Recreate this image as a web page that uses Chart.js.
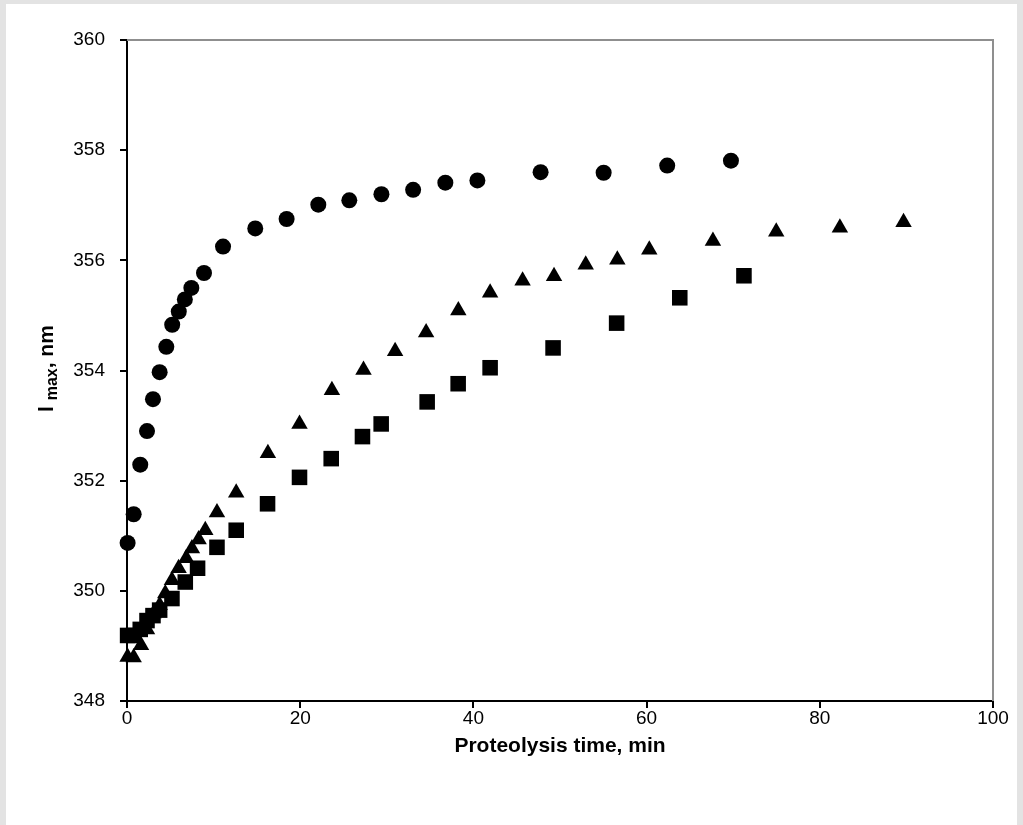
<!DOCTYPE html>
<html>
<head>
<meta charset="utf-8">
<script src="https://cdn.jsdelivr.net/npm/chart.js@4"></script>
<style>
html,body{margin:0;padding:0;background:#e3e3e3;}
canvas{display:block;}
</style>
</head>
<body>
<canvas id="c" width="1023" height="825"></canvas>
<script>
// ---- data ----
const circleTime = [0.07, 0.77, 1.53, 2.31, 3.0, 3.77, 4.54, 5.22, 5.98, 6.68, 7.43, 8.89, 11.09, 14.81, 18.43, 22.09, 25.67, 29.38, 33.04, 36.76, 40.46, 47.76, 55.04, 62.38, 69.74];
const circleLmax = [350.87, 351.39, 352.29, 352.90, 353.48, 353.97, 354.43, 354.83, 355.07, 355.29, 355.50, 355.77, 356.25, 356.58, 356.75, 357.01, 357.09, 357.20, 357.28, 357.41, 357.45, 357.60, 357.59, 357.72, 357.81];

const triangleTime = [0.07, 0.77, 1.62, 2.31, 3.07, 3.77, 4.42, 5.19, 5.96, 6.84, 7.50, 8.27, 9.04, 10.39, 12.61, 16.27, 19.92, 23.66, 27.31, 30.96, 34.54, 38.26, 41.93, 45.68, 49.31, 52.97, 56.62, 60.31, 67.66, 74.97, 82.32, 89.67];
const triangleLmax = [348.80, 348.79, 349.01, 349.30, 349.59, 349.74, 349.95, 350.19, 350.41, 350.59, 350.77, 350.93, 351.10, 351.42, 351.78, 352.50, 353.03, 353.64, 354.01, 354.35, 354.69, 355.09, 355.41, 355.63, 355.71, 355.92, 356.01, 356.19, 356.35, 356.52, 356.59, 356.69];

const squareTime = [0.07, 0.77, 1.53, 2.31, 3.00, 3.77, 5.19, 6.73, 8.15, 10.39, 12.61, 16.23, 19.92, 23.58, 27.19, 29.35, 34.66, 38.24, 41.93, 49.20, 56.54, 63.83, 71.24];
const squareLmax = [349.19, 349.19, 349.30, 349.46, 349.55, 349.65, 349.86, 350.16, 350.41, 350.79, 351.10, 351.58, 352.06, 352.40, 352.80, 353.03, 353.43, 353.76, 354.05, 354.41, 354.86, 355.32, 355.72];

const xTicks = [0, 20, 40, 60, 80, 100];
const yTicks = [348, 350, 352, 354, 356, 358, 360];
const xTitle = "Proteolysis time, min";
const yTitleMain = "l";
const yTitleSub = "max";
const yTitleEnd = ", nm";

const pts = (xs, ys) => xs.map((x, i) => ({x: x, y: ys[i]}));

const FONT = '"Liberation Sans", Arial, sans-serif';

const framePlugin = {
  id: 'frame',
  beforeDraw(chart) {
    const ctx = chart.ctx;
    ctx.save();
    ctx.fillStyle = '#e3e3e3';
    ctx.fillRect(0, 0, chart.width, chart.height);
    ctx.fillStyle = '#ffffff';
    ctx.fillRect(6, 4, chart.width - 12, chart.height - 4);
    ctx.restore();
  },
  beforeDatasetsDraw(chart) {
    const {ctx, chartArea: a} = chart;
    ctx.save();
    ctx.strokeStyle = '#8f8f8f';
    ctx.lineWidth = 2;
    ctx.beginPath();
    ctx.moveTo(a.left, a.top);
    ctx.lineTo(a.right, a.top);
    ctx.lineTo(a.right, a.bottom);
    ctx.stroke();
    ctx.restore();
  },
  afterDraw(chart) {
    const {ctx, chartArea: a} = chart;
    ctx.save();
    ctx.fillStyle = '#000';
    // x title
    ctx.font = 'bold 21px ' + FONT;
    ctx.textAlign = 'center';
    ctx.textBaseline = 'alphabetic';
    ctx.fillText(xTitle, (a.left + a.right) / 2, 752);
    // y title (rotated, with subscript)
    ctx.translate(53, 412);
    ctx.rotate(-Math.PI / 2);
    ctx.textAlign = 'left';
    let x = 0;
    ctx.font = 'bold 21px ' + FONT;
    ctx.fillText(yTitleMain, x, 0);
    x += ctx.measureText(yTitleMain + ' ').width;
    ctx.font = 'bold 16px ' + FONT;
    ctx.fillText(yTitleSub, x, 4);
    x += ctx.measureText(yTitleSub).width;
    ctx.font = 'bold 21px ' + FONT;
    ctx.fillText(yTitleEnd, x, 0);
    ctx.restore();
  }
};

new Chart(document.getElementById('c'), {
  type: 'scatter',
  data: {
    datasets: [
      {label: 'squares', data: pts(squareTime, squareLmax), pointStyle: 'rect', pointRadius: 11, pointHoverRadius: 11,
       backgroundColor: '#000', borderColor: '#000', borderWidth: 0, showLine: false, clip: false},
      {label: 'triangles', data: pts(triangleTime, triangleLmax), pointStyle: 'triangle', pointRadius: 9.5, pointHoverRadius: 9.5,
       backgroundColor: '#000', borderColor: '#000', borderWidth: 0, showLine: false, clip: false},
      {label: 'circles', data: pts(circleTime, circleLmax), pointStyle: 'circle', pointRadius: 8, pointHoverRadius: 8,
       backgroundColor: '#000', borderColor: '#000', borderWidth: 0, showLine: false, clip: false}
    ]
  },
  options: {
    responsive: false,
    animation: false,
    devicePixelRatio: 1,
    layout: {padding: {left: 0, right: 30, top: 40, bottom: 0}},
    plugins: {legend: {display: false}, tooltip: {enabled: false}, title: {display: false}},
    scales: {
      x: {
        type: 'linear', min: xTicks[0], max: xTicks[xTicks.length - 1],
        afterBuildTicks: s => { s.ticks = xTicks.map(v => ({value: v})); },
        afterFit: s => { s.height = 124; s.paddingLeft = 0; s.paddingRight = 0; },
        grid: {drawOnChartArea: false, drawTicks: true, tickLength: 7, color: '#000', lineWidth: 2},
        border: {display: true, color: '#000', width: 2},
        ticks: {color: '#000', padding: 1, font: {family: FONT, size: 19, lineHeight: 1}, maxRotation: 0}
      },
      y: {
        type: 'linear', min: yTicks[0], max: yTicks[yTicks.length - 1],
        afterBuildTicks: s => { s.ticks = yTicks.map(v => ({value: v})); },
        afterFit: s => { s.width = 127; s.paddingTop = 0; s.paddingBottom = 0; },
        grid: {drawOnChartArea: false, drawTicks: true, tickLength: 7, color: '#000', lineWidth: 2},
        border: {display: true, color: '#000', width: 2},
        ticks: {color: '#000', padding: 15, font: {family: FONT, size: 19}}
      }
    }
  },
  plugins: [framePlugin]
});
</script>
</body>
</html>
